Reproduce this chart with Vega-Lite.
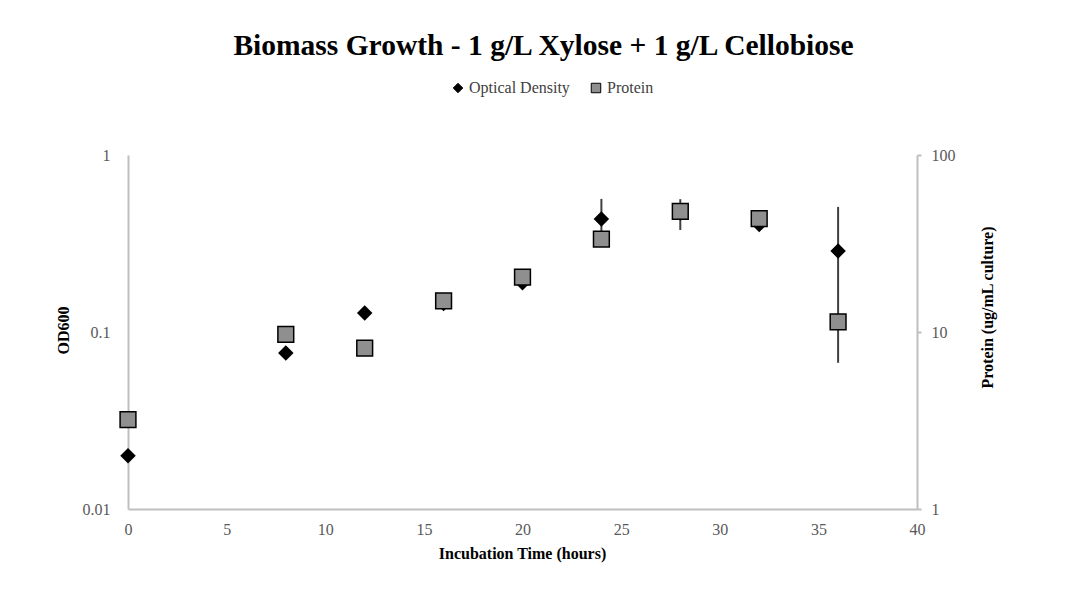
{
  "$schema": "https://vega.github.io/schema/vega-lite/v6.json",
  "width": 789,
  "height": 354,
  "autosize": {"type": "none"},
  "padding": {"left": 128, "top": 155, "right": 156, "bottom": 88},
  "background": "white",
  "title": {
    "text": "Biomass Growth - 1 g/L Xylose + 1 g/L Cellobiose",
    "font": "Liberation Serif",
    "fontSize": 29.5,
    "fontWeight": "bold",
    "color": "#000000",
    "anchor": "middle",
    "offset": 19,
    "dx": 21
  },
  "config": {
    "view": {"stroke": null},
    "axis": {
      "grid": false,
      "labelFont": "Liberation Serif",
      "labelFontSize": 16,
      "labelColor": "#595959",
      "labelFlush": false,
      "titleFont": "Liberation Serif",
      "titleFontSize": 16,
      "titleFontWeight": "bold",
      "titleColor": "#000000",
      "domainColor": "#bfbfbf",
      "domainWidth": 2,
      "tickColor": "#bfbfbf",
      "tickWidth": 2
    },
    "legend": {
      "labelFont": "Liberation Serif",
      "labelFontSize": 16,
      "labelColor": "#404040"
    }
  },
  "data": {
    "values": [
      {"t": 0, "od": 0.020, "protein": 3.2},
      {"t": 8, "od": 0.076, "protein": 9.7},
      {"t": 12, "od": 0.128, "protein": 8.1},
      {"t": 16, "od": 0.145, "protein": 15.0},
      {"t": 20, "od": 0.190, "protein": 20.4},
      {"t": 24, "od": 0.435, "od_lo": 0.305, "od_hi": 0.565, "protein": 33.5},
      {"t": 28, "od": 0.47, "od_lo": 0.377, "od_hi": 0.563, "protein": 48.0},
      {"t": 32, "od": 0.405, "protein": 43.7},
      {"t": 36, "od": 0.287, "od_lo": 0.067, "od_hi": 0.509, "protein": 11.4}
    ]
  },
  "layer": [
    {
      "layer": [
        {
          "transform": [{"filter": "isValid(datum.od_lo)"}],
          "mark": {"type": "rule", "color": "#404040", "strokeWidth": 2},
          "encoding": {
            "x": {"field": "t", "type": "quantitative"},
            "y": {"field": "od_lo", "type": "quantitative"},
            "y2": {"field": "od_hi"}
          }
        },
        {
          "mark": {"type": "point", "filled": true, "size": 240, "opacity": 1},
          "encoding": {
            "x": {
              "field": "t",
              "type": "quantitative",
              "scale": {"domain": [0, 40], "nice": false},
              "axis": {
                "title": "Incubation Time (hours)",
                "values": [0, 5, 10, 15, 20, 25, 30, 35, 40],
                "ticks": false,
                "labelPadding": 12,
                "titleX": 394,
                "titleY": 44,
                "titleBaseline": "middle",
                "titleAlign": "center"
              }
            },
            "y": {
              "field": "od",
              "type": "quantitative",
              "scale": {"type": "log", "domain": [0.01, 1], "nice": false},
              "axis": {
                "title": "OD600",
                "orient": "left",
                "values": [0.01, 0.1, 1],
                "format": "~g",
                "ticks": false,
                "labelPadding": 18,
                "titleAngle": 270,
                "titleX": -65,
                "titleY": 175,
                "titleAlign": "center",
                "titleBaseline": "middle"
              }
            },
            "color": {
              "datum": "Optical Density",
              "type": "nominal",
              "scale": {"domain": ["Optical Density", "Protein"], "range": ["#000000", "#8f8f8f"]},
              "legend": {
                "title": null,
                "orient": "none",
                "legendX": 322,
                "legendY": -75,
                "direction": "horizontal",
                "symbolSize": 90,
                "symbolStrokeColor": "#000000",
                "symbolStrokeWidth": 1,
                "labelOffset": 3,
                "columnPadding": 18
              }
            },
            "shape": {
              "datum": "Optical Density",
              "type": "nominal",
              "scale": {"domain": ["Optical Density", "Protein"], "range": ["diamond", "square"]},
              "legend": {
                "title": null,
                "orient": "none",
                "legendX": 322,
                "legendY": -75,
                "direction": "horizontal",
                "symbolSize": 90,
                "symbolStrokeColor": "#000000",
                "symbolStrokeWidth": 1,
                "labelOffset": 3,
                "columnPadding": 18
              }
            }
          }
        }
      ]
    },
    {
      "mark": {"type": "point", "filled": true, "size": 250, "stroke": "#000000", "strokeWidth": 1.5, "opacity": 1},
      "encoding": {
        "x": {"field": "t", "type": "quantitative"},
        "y": {
          "field": "protein",
          "type": "quantitative",
          "scale": {"type": "log", "domain": [1, 100], "nice": false},
          "axis": {
            "title": "Protein (ug/mL culture)",
            "orient": "right",
            "values": [1, 10, 100],
            "format": "~g",
            "ticks": true,
            "tickSize": 4,
            "labelPadding": 10,
            "titleAngle": 270,
            "titleX": 70,
            "titleY": 152,
            "titleAlign": "center",
            "titleBaseline": "middle"
          }
        },
        "color": {"datum": "Protein", "type": "nominal"},
        "shape": {"datum": "Protein", "type": "nominal"}
      }
    }
  ],
  "resolve": {"scale": {"y": "independent"}}
}
